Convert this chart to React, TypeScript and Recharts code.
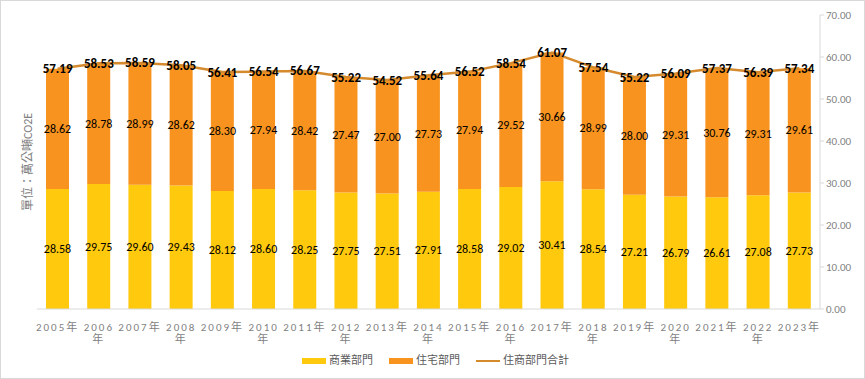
import React from "react";
import {
  ComposedChart,
  Bar,
  Line,
  XAxis,
  YAxis,
  LabelList,
} from "recharts";

const years = [
  "2005", "2006", "2007", "2008", "2009", "2010", "2011", "2012", "2013", "2014",
  "2015", "2016", "2017", "2018", "2019", "2020", "2021", "2022", "2023",
];
const commercial = [
  28.58, 29.75, 29.6, 29.43, 28.12, 28.6, 28.25, 27.75, 27.51, 27.91,
  28.58, 29.02, 30.41, 28.54, 27.21, 26.79, 26.61, 27.08, 27.73,
];
const residential = [
  28.62, 28.78, 28.99, 28.62, 28.3, 27.94, 28.42, 27.47, 27.0, 27.73,
  27.94, 29.52, 30.66, 28.99, 28.0, 29.31, 30.76, 29.31, 29.61,
];
const totals = [
  57.19, 58.53, 58.59, 58.05, 56.41, 56.54, 56.67, 55.22, 54.52, 55.64,
  56.52, 58.54, 61.07, 57.54, 55.22, 56.09, 57.37, 56.39, 57.34,
];
const yTicks = [0, 10, 20, 30, 40, 50, 60, 70];
const legendNames = ["商業部門", "住宅部門", "住商部門合計"];

const data = years.map((y, i) => ({
  year: y,
  commercial: commercial[i],
  residential: residential[i],
  total: totals[i],
}));

const YELLOW = "#FFC90E";
const ORANGE = "#F7931E";
const LINE = "#D68A2E";
const FONT = "Calibri, Carlito, 'Noto Sans', 'Noto Sans CJK TC', sans-serif";

function YearTick(props: any) {
  const { x, y, payload, index } = props;
  const wrap = index % 2 === 1;
  const style = { fontSize: 11, letterSpacing: 2, fill: "#7f7f7f", fontFamily: FONT };
  if (!wrap) {
    return (
      <text x={x} y={y + 14} textAnchor="middle" style={style}>
        {payload.value + "年"}
      </text>
    );
  }
  return (
    <text x={x} y={y + 14} textAnchor="middle" style={style}>
      <tspan x={x}>{payload.value}</tspan>
      <tspan x={x} dy={12}>年</tspan>
    </text>
  );
}

function TotalLabel(props: any) {
  const { x, y, value } = props;
  return (
    <text
      x={x}
      y={y}
      textAnchor="middle"
      dominantBaseline="central"
      style={{ fontSize: 13, fontWeight: 700, fill: "#000", fontFamily: FONT }}
    >
      {Number(value).toFixed(2)}
    </text>
  );
}

function SegLabel(props: any) {
  const { x, y, width, height, value } = props;
  return (
    <text
      x={x + width / 2}
      y={y + height / 2}
      textAnchor="middle"
      dominantBaseline="central"
      style={{ fontSize: 12, fill: "#000", fontFamily: FONT }}
    >
      {Number(value).toFixed(2)}
    </text>
  );
}

function LegendContent() {
  const txt: React.CSSProperties = {
    position: "absolute",
    top: -8,
    fontSize: 11,
    lineHeight: "16px",
    color: "#595959",
    fontFamily: FONT,
    whiteSpace: "nowrap",
  };
  const sw = (left: number, color: string, h: number): React.CSSProperties => ({
    position: "absolute",
    left,
    top: -h / 2,
    width: 24,
    height: h,
    background: color,
  });
  return (
    <div style={{ position: "absolute", left: 0, top: 360, width: 865, height: 0 }}>
      <span style={sw(301, YELLOW, 6)} />
      <span style={{ ...txt, left: 328 }}>{legendNames[0]}</span>
      <span style={sw(388, ORANGE, 6)} />
      <span style={{ ...txt, left: 415 }}>{legendNames[1]}</span>
      <span style={sw(475, LINE, 2)} />
      <span style={{ ...txt, left: 502 }}>{legendNames[2]}</span>
    </div>
  );
}

export default function App() {
  return (
    <div
      style={{
        position: "fixed",
        left: 0,
        top: 0,
        width: 865,
        height: 379,
        boxSizing: "border-box",
        border: "1px solid #d9d9d9",
        background: "#fff",
      }}
    >
      <div
        style={{
          position: "absolute",
          left: 25,
          top: 161,
          transform: "translate(-50%, -50%) rotate(-90deg)",
          whiteSpace: "nowrap",
          fontSize: 12,
          color: "#7f7f7f",
          fontFamily: FONT,
        }}
      >
        單位：萬公噸CO2E
      </div>
      <ComposedChart
        width={863}
        height={377}
        data={data}
        margin={{ top: 14, right: 0, left: 36, bottom: 33 }}
        style={{ position: "absolute", left: 0, top: 0 }}
      >
        <XAxis
          dataKey="year"
          tick={<YearTick />}
          tickLine={false}
          axisLine={{ stroke: "#d9d9d9" }}
          interval={0}
          height={36}
        />
        <YAxis
          orientation="right"
          domain={[0, 70]}
          ticks={yTicks}
          tickFormatter={(v: number) => v.toFixed(2)}
          tick={{ fill: "#7f7f7f", fontSize: 11, fontFamily: FONT }}
          axisLine={{ stroke: "#d9d9d9" }}
          tickLine={{ stroke: "#d9d9d9" }}
          tickSize={4}
          width={44}
        />
        <Bar dataKey="commercial" stackId="a" fill={YELLOW} barSize={23} isAnimationActive={false}>
          <LabelList dataKey="commercial" content={<SegLabel />} />
        </Bar>
        <Bar dataKey="residential" stackId="a" fill={ORANGE} barSize={23} isAnimationActive={false}>
          <LabelList dataKey="residential" content={<SegLabel />} />
        </Bar>
        <Line
          dataKey="total"
          type="linear"
          stroke={LINE}
          strokeWidth={2.5}
          dot={false}
          activeDot={false}
          isAnimationActive={false}
        >
          <LabelList dataKey="total" content={<TotalLabel />} />
        </Line>
      </ComposedChart>
      <LegendContent />
    </div>
  );
}
